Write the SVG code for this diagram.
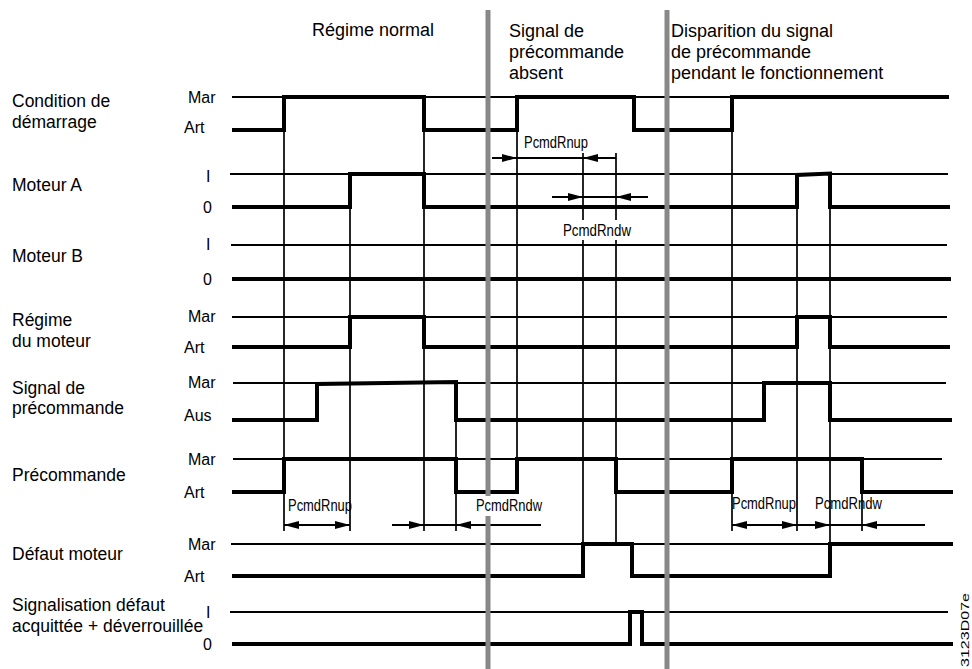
<svg xmlns="http://www.w3.org/2000/svg" width="972" height="669" viewBox="0 0 972 669">
<style>
text{font-family:"Liberation Sans",Arial,sans-serif;fill:#000}
.lbl{font-size:17.5px}
.hdr{font-size:18px}
.lvl{font-size:16px}
.tim{font-size:16.5px}
.thin{stroke:#000;stroke-width:2;fill:none}
.thick{stroke:#000;stroke-width:4;fill:none;stroke-linejoin:miter}
.tick{stroke:#000;stroke-width:1.7;fill:none}
.arr{stroke:#000;stroke-width:2;fill:none}
.sep{stroke:#888;stroke-width:5}
</style>
<defs>
<marker id="ah" markerUnits="userSpaceOnUse" markerWidth="16" markerHeight="9" refX="15" refY="4" orient="auto-start-reverse">
<path d="M0,0 L15,4 L0,8 z" fill="#000"/>
</marker>
</defs>
<rect width="972" height="669" fill="#fff"/>

<g id="headers">
<text class="hdr" x="312" y="36">Régime normal</text>
<text class="hdr" x="509" y="37">Signal de</text>
<text class="hdr" x="509" y="58">précommande</text>
<text class="hdr" x="509" y="79">absent</text>
<text class="hdr" x="671" y="37">Disparition du signal</text>
<text class="hdr" x="671" y="58">de précommande</text>
<text class="hdr" x="671" y="79">pendant le fonctionnement</text>
</g>

<g id="timing-lines">
<path class="tick" d="M284,97V531 M350,174V531 M424,97V531 M456,383V531 M517,97V459 M583,153V220 M583,240V544 M616,153V220 M616,240V544 M732,97V531 M797,174V531 M830,174V544 M862,459V531"/>
</g>

<g id="row-condition">
<text class="lbl" x="12" y="107">Condition de</text>
<text class="lbl" x="12" y="128">démarrage</text>
<text class="lvl" x="188" y="103">Mar</text>
<text class="lvl" x="184" y="133">Art</text>
<path class="thin" d="M232,97H949"/>
<path class="thick" d="M232,130H284V97H424V130H517V97H634V130H732V97H949"/>
</g>

<g id="row-moteur-a">
<text class="lbl" x="12" y="191">Moteur A</text>
<text class="lvl" x="206" y="182">I</text>
<text class="lvl" x="203" y="213">0</text>
<path class="thin" d="M230,174H948"/>
<path class="thick" d="M232,207H350V174H424V207H797V175L830,173.5V207H950"/>
</g>

<g id="row-moteur-b">
<text class="lbl" x="12" y="262">Moteur B</text>
<text class="lvl" x="206" y="250">I</text>
<text class="lvl" x="203" y="285">0</text>
<path class="thin" d="M231,245H947"/>
<path class="thick" d="M232,279H951"/>
</g>

<g id="row-regime">
<text class="lbl" x="12" y="326">Régime</text>
<text class="lbl" x="12" y="347">du moteur</text>
<text class="lvl" x="188" y="322">Mar</text>
<text class="lvl" x="184" y="353">Art</text>
<path class="thin" d="M232,317H947"/>
<path class="thick" d="M232,347H350V317H424V347H797V317H830V347H950"/>
</g>

<g id="row-signal">
<text class="lbl" x="12" y="394">Signal de</text>
<text class="lbl" x="12" y="414">précommande</text>
<text class="lvl" x="188" y="388">Mar</text>
<text class="lvl" x="184" y="421">Aus</text>
<path class="thin" d="M233,383H946"/>
<path class="thick" d="M232,420H317V384L456,382V420H764V383H830V420H952"/>
</g>

<g id="row-precommande">
<text class="lbl" x="12" y="481">Précommande</text>
<text class="lvl" x="188" y="465">Mar</text>
<text class="lvl" x="184" y="498">Art</text>
<path class="thin" d="M233,459H942"/>
<path class="thick" d="M232,492H284V459H456V492H517V459H616V492H732V459H862V492H953"/>
</g>

<g id="row-defaut">
<text class="lbl" x="12" y="560">Défaut moteur</text>
<text class="lvl" x="188" y="550">Mar</text>
<text class="lvl" x="184" y="582">Art</text>
<path class="thin" d="M231,544H953"/>
<path class="thick" d="M232,576H583V544H632V576H830V544H953"/>
</g>

<g id="row-signalisation">
<text class="lbl" x="12" y="611">Signalisation défaut</text>
<text class="lbl" x="12" y="632">acquittée + déverrouillée</text>
<text class="lvl" x="206" y="618">I</text>
<text class="lvl" x="203" y="650">0</text>
<path class="thin" d="M230,612H948"/>
<path class="thick" d="M232,644H630V612H642V644H953"/>
</g>

<g id="connectors">
<path class="arr" d="M492,158H517" marker-end="url(#ah)"/>
<path class="arr" d="M517,158H616"/>
<path class="arr" d="M616,158H583" marker-end="url(#ah)"/>
<path class="arr" d="M552,197H583" marker-end="url(#ah)"/>
<path class="arr" d="M583,197H648"/>
<path class="arr" d="M648,197H616" marker-end="url(#ah)"/>
<path class="arr" d="M284,525H350" marker-start="url(#ah)" marker-end="url(#ah)"/>
<path class="arr" d="M392,525H424" marker-end="url(#ah)"/>
<path class="arr" d="M424,525H541"/>
<path class="arr" d="M541,525H456" marker-end="url(#ah)"/>
<path class="arr" d="M732,525H797" marker-start="url(#ah)" marker-end="url(#ah)"/>
<path class="arr" d="M797,525H830" marker-end="url(#ah)"/>
<path class="arr" d="M830,525H925"/>
<path class="arr" d="M925,525H862" marker-end="url(#ah)"/>
</g>

<g id="separators">
<path class="sep" d="M488,10V669 M667,10V669"/>
</g>

<g id="timing-labels">
<text class="tim" x="524" y="148" textLength="64" lengthAdjust="spacingAndGlyphs">PcmdRnup</text>
<rect x="558" y="221" width="78" height="19" fill="#fff"/>
<text class="tim" x="563" y="236" textLength="68" lengthAdjust="spacingAndGlyphs">PcmdRndw</text>
<text class="tim" x="288" y="511" textLength="64" lengthAdjust="spacingAndGlyphs">PcmdRnup</text>
<rect x="474" y="496" width="70" height="20" fill="#fff"/>
<text class="tim" x="476" y="511" textLength="66" lengthAdjust="spacingAndGlyphs">PcmdRndw</text>
<text class="tim" x="732" y="509" textLength="64" lengthAdjust="spacingAndGlyphs">PcmdRnup</text>
<text class="tim" x="815" y="509" textLength="67" lengthAdjust="spacingAndGlyphs">PcmdRndw</text>
</g>

<text transform="translate(969,667) rotate(-90)" font-size="11" textLength="74" lengthAdjust="spacingAndGlyphs">3123D07e</text>
</svg>
